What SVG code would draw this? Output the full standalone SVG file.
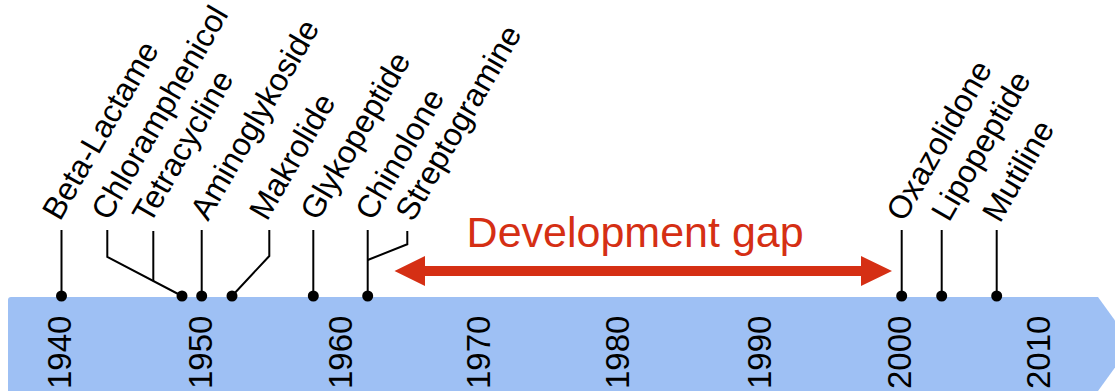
<svg xmlns="http://www.w3.org/2000/svg" width="1115" height="392" viewBox="0 0 1115 392">
  <style>
    .lbl { font-family: "Liberation Sans", Arial, Helvetica, sans-serif; font-size: 32px; fill: #000; }
    .yr { font-family: "Liberation Sans", Arial, Helvetica, sans-serif; font-size: 33px; fill: #000; }
    .gap { font-family: "Liberation Sans", Arial, Helvetica, sans-serif; font-size: 43px; fill: #D52F14; }
    .ln { fill: none; stroke: #000; stroke-width: 2; stroke-linejoin: miter; }
    .dot { fill: #000; }
  </style>
  <rect width="1115" height="392" fill="#fff"/>
  <g id="timeline">
    <path d="M8,300 Q8,297 11,297 L1098,297 L1132,344 L1098,391 L8,391 Z" fill="#9EC0F4"/>
    <text class="yr" transform="translate(70.5,389) rotate(-90)">1940</text>
    <text class="yr" transform="translate(211.5,389) rotate(-90)">1950</text>
    <text class="yr" transform="translate(351.5,389) rotate(-90)">1960</text>
    <text class="yr" transform="translate(489.5,389) rotate(-90)">1970</text>
    <text class="yr" transform="translate(628.5,389) rotate(-90)">1980</text>
    <text class="yr" transform="translate(770.5,389) rotate(-90)">1990</text>
    <text class="yr" transform="translate(910.5,389) rotate(-90)">2000</text>
    <text class="yr" transform="translate(1049.5,389) rotate(-90)">2010</text>
  </g>
  <g id="connectors">
    <polyline class="ln" points="61.5,230 61.5,296"/>
    <polyline class="ln" points="107.3,230 107.3,257 182,296"/>
    <polyline class="ln" points="153.3,231 153.3,281"/>
    <polyline class="ln" points="201.7,230 201.7,296"/>
    <polyline class="ln" points="269.3,230 269.3,256 232,296"/>
    <polyline class="ln" points="313.3,230 313.3,296"/>
    <polyline class="ln" points="367.7,230 367.7,296"/>
    <polyline class="ln" points="407.3,231 407.3,244.3 367.7,260"/>
    <polyline class="ln" points="901.7,230 901.7,296"/>
    <polyline class="ln" points="941.7,230 941.7,296"/>
    <polyline class="ln" points="996.7,230 996.7,296"/>
  </g>
  <g id="gap">
    <polygon points="394.5,271 425,256 425,266 861,266 861,256 892,271 861,286 861,276 425,276 425,286" fill="#D52F14"/>
    <text class="gap" x="466.6" y="246.5">Development gap</text>
  </g>
  <g id="beta-lactame"><circle class="dot" cx="61.5" cy="296" r="5.5"/><text class="lbl" transform="translate(60,222) rotate(-60)">Beta-Lactame</text></g>
  <g id="chloramphenicol"><circle class="dot" cx="182" cy="296" r="5.5"/><text class="lbl" transform="translate(109,222) rotate(-60)">Chloramphenicol</text></g>
  <g id="tetracycline"><text class="lbl" transform="translate(150,225) rotate(-60)">Tetracycline</text></g>
  <g id="aminoglykoside"><circle class="dot" cx="201.7" cy="296" r="5.5"/><text class="lbl" transform="translate(208,222) rotate(-60)">Aminoglykoside</text></g>
  <g id="makrolide"><circle class="dot" cx="232" cy="296" r="5.5"/><text class="lbl" transform="translate(267,222) rotate(-60)">Makrolide</text></g>
  <g id="glykopeptide"><circle class="dot" cx="313.3" cy="296" r="5.5"/><text class="lbl" transform="translate(318,222) rotate(-60)">Glykopeptide</text></g>
  <g id="chinolone"><circle class="dot" cx="367.7" cy="296" r="5.5"/><text class="lbl" transform="translate(373,222) rotate(-60)">Chinolone</text></g>
  <g id="streptogramine"><text class="lbl" transform="translate(413,223) rotate(-60)">Streptogramine</text></g>
  <g id="oxazolidone"><circle class="dot" cx="901.7" cy="296" r="5.5"/><text class="lbl" transform="translate(904,223) rotate(-60)">Oxazolidone</text></g>
  <g id="lipopeptide"><circle class="dot" cx="941.7" cy="296" r="5.5"/><text class="lbl" transform="translate(949,223) rotate(-60)">Lipopeptide</text></g>
  <g id="mutiline"><circle class="dot" cx="996.7" cy="296" r="5.5"/><text class="lbl" transform="translate(1000,224) rotate(-60)">Mutiline</text></g>
</svg>
